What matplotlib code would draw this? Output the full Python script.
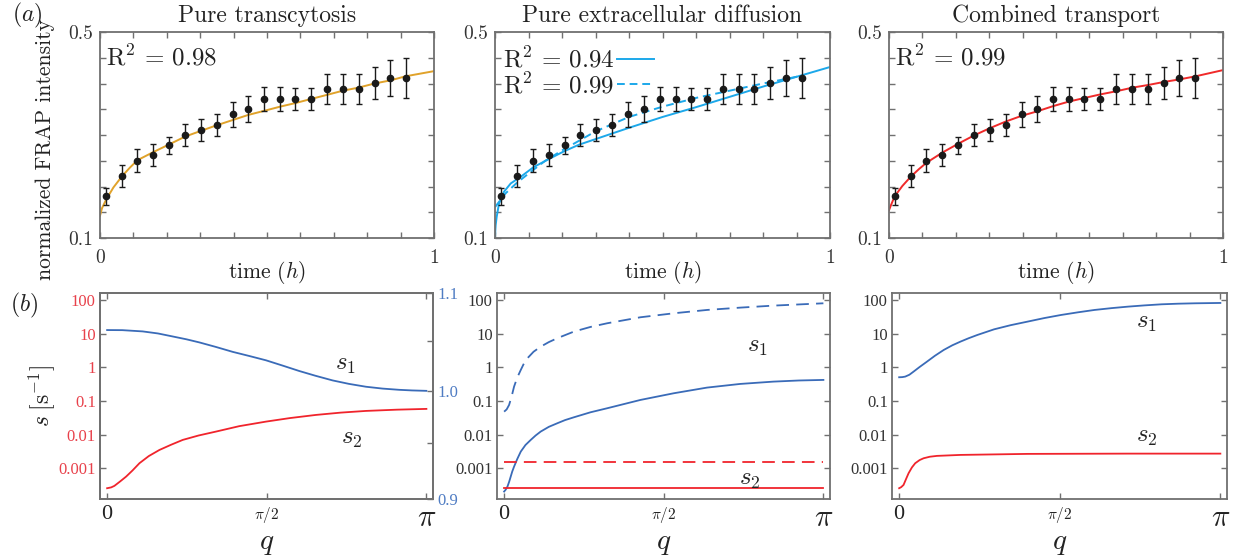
import numpy as np
import matplotlib.pyplot as plt

plt.rcParams['font.family'] = 'cmr10'
plt.rcParams['mathtext.fontset'] = 'cm'
plt.rcParams['axes.unicode_minus'] = False
plt.rcParams['axes.formatter.use_mathtext'] = True

# FRAP data (same in all three top panels)
t_data = [0.018, 0.066, 0.112, 0.160, 0.208, 0.255, 0.302, 0.350, 0.397, 0.444,
          0.492, 0.539, 0.585, 0.632, 0.680, 0.727, 0.774, 0.822, 0.869, 0.915]
frap_mean = [0.181, 0.221, 0.250, 0.261, 0.280, 0.300, 0.310, 0.320, 0.340, 0.350,
             0.370, 0.370, 0.370, 0.370, 0.390, 0.390, 0.390, 0.401, 0.410, 0.410]
frap_err = [0.017, 0.021, 0.022, 0.021, 0.017, 0.021, 0.021, 0.021, 0.025, 0.025,
            0.024, 0.024, 0.021, 0.021, 0.029, 0.029, 0.029, 0.032, 0.035, 0.039]

# fitted curves
t_trans = [0, 0.006, 0.018, 0.04, 0.066, 0.09, 0.112, 0.160, 0.208, 0.255, 0.302, 0.350,
           0.397, 0.444, 0.492, 0.539, 0.585, 0.632, 0.680, 0.727, 0.774, 0.822, 0.869,
           0.915, 1.0]
fit_trans = [0.143, 0.158, 0.174, 0.198, 0.220, 0.237, 0.251, 0.267, 0.282, 0.297, 0.308,
             0.319, 0.329, 0.339, 0.347, 0.355, 0.362, 0.370, 0.378, 0.386, 0.392, 0.400,
             0.406, 0.414, 0.424]

t_diff = [0, 0.001, 0.002, 0.005, 0.012, 0.027, 0.047, 0.077, 0.116, 0.166, 0.205, 0.25,
          0.3, 0.4, 0.5, 0.6, 0.7, 0.8, 0.9, 1.0]
fit_diff = [0.100, 0.115, 0.125, 0.141, 0.167, 0.190, 0.206, 0.219, 0.238, 0.255, 0.268,
            0.281, 0.292, 0.314, 0.335, 0.354, 0.374, 0.394, 0.413, 0.432]
t_diff2 = [0.0, 0.032, 0.065, 0.1, 0.15, 0.2, 0.3, 0.4, 0.5, 0.6, 0.7, 0.8, 0.915]
fit_diff2 = [0.160, 0.187, 0.207, 0.225, 0.250, 0.270, 0.307, 0.335, 0.355, 0.372,
             0.386, 0.400, 0.415]

t_comb = [0, 0.006, 0.017, 0.04, 0.065, 0.09, 0.112, 0.160, 0.207, 0.254, 0.301, 0.349,
          0.396, 0.444, 0.491, 0.539, 0.586, 0.634, 0.681, 0.729, 0.775, 0.823, 0.870,
          0.918, 1.0]
fit_comb = [0.154, 0.164, 0.181, 0.201, 0.219, 0.234, 0.246, 0.266, 0.283, 0.299, 0.313,
            0.326, 0.337, 0.346, 0.356, 0.365, 0.372, 0.379, 0.385, 0.392, 0.397, 0.403,
            0.408, 0.414, 0.426]

r2_labels = ['0.98', '0.94', '0.99', '0.99']

# dispersion relations s(q)
q_t1 = [0, 0.15, 0.35, 0.5, 0.645, 0.78, 0.908, 1.07, 1.236, 1.4, 1.563, 1.73, 1.891,
        2.05, 2.219, 2.38, 2.547, 2.71, 2.874, 3.0, np.pi]
s1_t = [1.061, 1.0609, 1.0596, 1.0575, 1.0544, 1.0515, 1.0483, 1.0437, 1.0387, 1.0345,
        1.0302, 1.0248, 1.0195, 1.0148, 1.0102, 1.0068, 1.004, 1.0022, 1.001, 1.0004, 1.0]
q_t2 = [0, 0.04, 0.072, 0.13, 0.187, 0.25, 0.318, 0.41, 0.515, 0.63, 0.744, 0.9, 1.072,
        1.3, 1.563, 1.8, 2.055, 2.3, 2.547, 2.85, np.pi]
s2_t = [2.55e-4, 2.7e-4, 3.0e-4, 4.1e-4, 5.65e-4, 8.6e-4, 1.41e-3, 2.3e-3, 3.5e-3,
        5.0e-3, 6.95e-3, 9.4e-3, 0.0123, 0.0178, 0.0243, 0.031, 0.0384, 0.045, 0.0505,
        0.055, 0.058]

q_d1 = [0, 0.025, 0.049, 0.075, 0.098, 0.13, 0.164, 0.195, 0.229, 0.29, 0.36, 0.44,
        0.523, 0.687, 0.85, 1.014, 1.341, 1.669, 1.996, 2.323, 2.65, np.pi]
s1_d_dash = [0.048, 0.056, 0.076, 0.14, 0.267, 0.5, 0.834, 1.3, 1.85, 2.9, 4.1, 5.6,
             7.3, 11.5, 15.8, 20.3, 30.6, 40.2, 50.5, 59.2, 67.9, 79.6]
q_d2 = [0, 0.015, 0.033, 0.05, 0.065, 0.08, 0.098, 0.13, 0.164, 0.21, 0.262, 0.31, 0.36,
        0.44, 0.523, 0.6, 0.687, 0.85, 1.014, 1.341, 1.669, 1.996, 2.323, 2.65, 2.9, np.pi]
s1_d = [2.03e-4, 2.3e-4, 2.86e-4, 4.0e-4, 5.66e-4, 8.0e-4, 1.12e-3, 1.9e-3, 3.13e-3,
        4.9e-3, 6.95e-3, 9.4e-3, 0.0123, 0.017, 0.0217, 0.027, 0.0327, 0.046, 0.0606,
        0.107, 0.169, 0.249, 0.32, 0.375, 0.405, 0.421]
q_d3 = [0, np.pi]
s2_d_dash = [1.51e-3, 1.51e-3]
s2_d = [2.55e-4, 2.55e-4]

q_c1 = [0, 0.03, 0.059, 0.1, 0.141, 0.2, 0.272, 0.35, 0.436, 0.52, 0.6, 0.68, 0.764,
        0.928, 1.09, 1.255, 1.42, 1.583, 1.75, 1.911, 2.08, 2.239, 2.4, 2.566, 2.73,
        2.894, np.pi]
s1_c = [0.505, 0.51, 0.528, 0.6, 0.743, 1.02, 1.47, 2.2, 3.27, 4.5, 5.79, 7.3, 9.1,
        13.4, 17.8, 22.7, 29.0, 35.8, 43.0, 50.5, 57.3, 63.4, 69.0, 74.3, 77.5, 79.6, 81.5]
q_c2 = [0, 0.02, 0.043, 0.065, 0.092, 0.125, 0.157, 0.2, 0.239, 0.3, 0.37, 0.6, 1.255,
        2.239, np.pi]
s2_c = [2.55e-4, 2.75e-4, 3.2e-4, 4.6e-4, 7.1e-4, 1.06e-3, 1.41e-3, 1.75e-3, 1.98e-3,
        2.2e-3, 2.33e-3, 2.49e-3, 2.67e-3, 2.72e-3, 2.72e-3]

titles = ['Pure transcytosis', 'Pure extracellular diffusion', 'Combined transport']

frame_col = '#707070'
orange = '#E0A22A'
cyan = '#1CA8EA'
red_top = '#F02A2A'
blue = '#3A6BB8'
red = '#F0242C'
red_tick = '#E8414B'
blue_tick = '#4F7CC3'
ink = '#222222'

W, H = 1238, 556
fig = plt.figure(figsize=(W / 100, H / 100), dpi=100)


def rect(l, r, top, bot):
    return [l / W, 1 - bot / H, (r - l) / W, (bot - top) / H]


top_axes = [fig.add_axes(rect(100, 434, 32, 238)),
            fig.add_axes(rect(495, 830, 32, 238)),
            fig.add_axes(rect(889, 1223, 32, 238))]
bot_axes = [fig.add_axes(rect(100, 433, 293, 499)),
            fig.add_axes(rect(497, 830, 293, 499)),
            fig.add_axes(rect(892, 1227, 293, 499))]

for i, ax in enumerate(top_axes):
    ax.errorbar(t_data, frap_mean, yerr=frap_err, fmt='o', color='#1a1a1a', ms=4.5,
                elinewidth=1.0, capsize=2.5, capthick=1.0, zorder=3)
    ax.set_xlim(0, 1)
    ax.set_ylim(0.1, 0.5)
    ax.set_xticks(np.linspace(0, 1, 11))
    ax.set_xticklabels(['0'] + [''] * 9 + ['1'])
    ax.set_yticks(np.linspace(0.1, 0.5, 9))
    ax.set_yticklabels(['0.1'] + [''] * 7 + ['0.5'])
    ax.tick_params(direction='in', length=4, width=1, color=frame_col, top=True,
                   right=True, labelsize=14, labelcolor='#333333')
    ax.tick_params(axis='x', pad=8)
    ax.tick_params(axis='y', pad=5)
    for sp in ax.spines.values():
        sp.set_color(frame_col)
        sp.set_linewidth(1.3)
    ax.set_title(titles[i], fontsize=17, pad=7, color=ink)
    ax.set_xlabel('time ($h$)', fontsize=15.5, color=ink)
    ax.xaxis.set_label_coords(0.5, -0.1)

top_axes[0].plot(t_trans, fit_trans, color=orange, lw=1.4)
top_axes[0].text(0.018, 0.875, r'R$^2$ = ' + r2_labels[0], transform=top_axes[0].transAxes,
                 fontsize=18, va='center', color=ink)
top_axes[0].set_ylabel('normalized FRAP intensity', fontsize=15.5, color=ink)
top_axes[0].yaxis.set_label_coords(-0.135, 0.43)

top_axes[1].plot(t_diff, fit_diff, color=cyan, lw=1.4, label=r'R$^2$ = ' + r2_labels[1])
top_axes[1].plot(t_diff2, fit_diff2, color=cyan, lw=1.4, ls=(0, (4, 2.5)),
                 label=r'R$^2$ = ' + r2_labels[2])
top_axes[1].legend(loc='upper left', bbox_to_anchor=(0.015, 0.94), frameon=False,
                   markerfirst=False, handlelength=1.5, handletextpad=0.1,
                   labelspacing=0.0, borderpad=0.1, borderaxespad=0.0,
                   prop={'size': 18}, labelcolor=ink)

top_axes[2].plot(t_comb, fit_comb, color=red_top, lw=1.4)
top_axes[2].text(0.018, 0.875, r'R$^2$ = ' + r2_labels[3], transform=top_axes[2].transAxes,
                 fontsize=18, va='center', color=ink)

fig.text(12 / W, 1 - 15 / H, '$(a)$', fontsize=17, va='center', color=ink)
fig.text(10 / W, 1 - 305 / H, '$(b)$', fontsize=17, va='center', color=ink)

# bottom row
for i, ax in enumerate(bot_axes):
    ax.set_yscale('log')
    ax.set_ylim(1.22e-4, 161)
    ax.set_xlim(-0.07, np.pi + 0.065)
    ax.set_yticks([1e-3, 1e-2, 1e-1, 1, 10, 100])
    ax.set_yticklabels(['0.001', '0.01', '0.1', '1', '10', '100'])
    ax.minorticks_off()
    ax.set_xticks([0, np.pi / 2, np.pi])
    ax.set_xticklabels(['0', r'$\pi/2$', r'$\pi$'])
    ax.tick_params(direction='in', length=4, width=1, color=frame_col, top=True,
                   right=(i > 0))
    ax.tick_params(axis='x', pad=4, labelcolor=ink)
    ax.tick_params(axis='y', pad=3, labelsize=12,
                   labelcolor=red_tick if i == 0 else '#333333')
    for lab in ax.get_yticklabels():
        lab.set_family('Liberation Serif')
    labs = ax.get_xticklabels()
    labs[0].set_fontsize(16)
    labs[0].set_family('Liberation Serif')
    labs[1].set_fontsize(11)
    labs[2].set_fontsize(22)
    for sp in ax.spines.values():
        sp.set_color(frame_col)
        sp.set_linewidth(1.3)
    ax.set_xlabel('$q$', fontsize=21, color=ink, labelpad=-1)

ax = bot_axes[0]
ax.plot(q_t2, s2_t, color=red, lw=1.3)
ax.set_ylabel(r'$s\;[\mathrm{s}^{-1}]$', fontsize=17, color=ink)
ax.yaxis.set_label_coords(-0.13, 0.5)
ax.text(2.35, 1.17, '$s_1$', fontsize=18, color=ink, ha='center', va='center')
ax.text(2.41, 7.45e-3, '$s_2$', fontsize=18, color=ink, ha='center', va='center')
axr = ax.twinx()
axr.set_yscale('log')
axr.set_ylim(0.9, 1.1)
axr.plot(q_t1, s1_t, color=blue, lw=1.3)
axr.set_yticks([0.9, 1.0, 1.1])
axr.set_yticklabels(['0.9', '1.0', '1.1'])
axr.set_yticks([0.95, 1.05], minor=True)
axr.yaxis.set_minor_formatter(plt.NullFormatter())
axr.tick_params(which='both', direction='in', length=4, width=1, color=frame_col,
                labelsize=12, labelcolor=blue_tick, pad=3)
for lab in axr.get_yticklabels():
    lab.set_family('Liberation Serif')
for sp in axr.spines.values():
    sp.set_color(frame_col)
    sp.set_linewidth(1.3)

ax = bot_axes[1]
ax.plot(q_d1, s1_d_dash, color=blue, lw=1.3, ls=(0, (7, 4)))
ax.plot(q_d2, s1_d, color=blue, lw=1.3)
ax.plot(q_d3, s2_d_dash, color=red, lw=1.3, ls=(0, (7, 4)))
ax.plot(q_d3, s2_d, color=red, lw=1.3)
ax.text(2.49, 4.02, '$s_1$', fontsize=18, color=ink, ha='center', va='center')
ax.text(2.42, 4.5e-4, '$s_2$', fontsize=18, color=ink, ha='center', va='center')

ax = bot_axes[2]
ax.plot(q_c1, s1_c, color=blue, lw=1.3)
ax.plot(q_c2, s2_c, color=red, lw=1.3)
ax.text(2.42, 20.7, '$s_1$', fontsize=18, color=ink, ha='center', va='center')
ax.text(2.42, 8.5e-3, '$s_2$', fontsize=18, color=ink, ha='center', va='center')

fig.savefig('out.png', dpi=100)
